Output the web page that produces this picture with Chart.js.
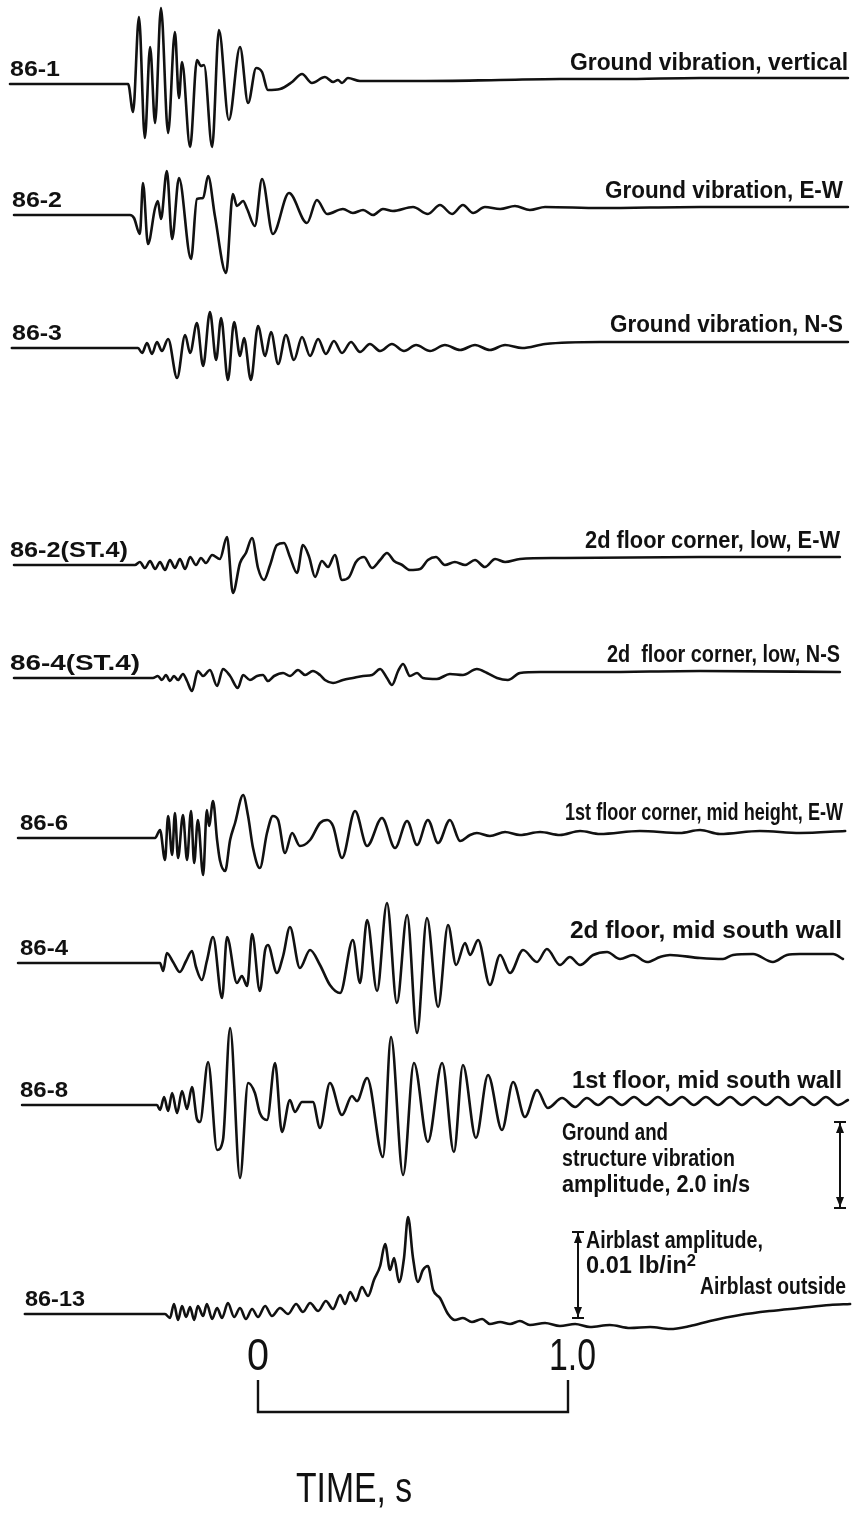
<!DOCTYPE html>
<html><head><meta charset="utf-8">
<script src="https://cdn.jsdelivr.net/npm/chart.js@4.4.0/dist/chart.umd.min.js"></script>
<style>
html,body{margin:0;padding:0;background:#fff;}
#wrap{position:relative;width:853px;height:1520px;overflow:hidden;background:#fff;}
#c{position:absolute;left:0;top:0;}
.t{position:absolute;white-space:pre;line-height:1;font-family:"Liberation Sans",Arial,sans-serif;font-weight:bold;color:#111;}
</style></head><body>
<div id="wrap"><canvas id="c" width="853" height="1520"></canvas></div>
<script>
// ===== DATA: [time (s), trace deflection] read from the record =====
const traceIds = ['86-1','86-2','86-3','86-2(ST.4)','86-4(ST.4)','86-6','86-4','86-8','86-13'];
const traceTitles = ['Ground vibration, vertical','Ground vibration, E-W','Ground vibration, N-S',
  '2d floor corner, low, E-W','2d  floor corner, low, N-S','1st floor corner, mid height, E-W',
  '2d floor, mid south wall','1st floor, mid south wall','Airblast outside'];
const timeTicks = [0, 1.0];
const timeTickLabels = ['0', '1.0'];

const ground_vertical_861 = [[-0.800,0],[-0.419,0],[-0.403,-28],[-0.384,67],[-0.365,-54],[-0.348,37],[-0.332,-39],
 [-0.313,76],[-0.290,-49],[-0.268,52],[-0.255,-14],[-0.245,22],[-0.219,-63],[-0.197,24],[-0.184,18],[-0.174,19],
 [-0.148,-63],[-0.126,54],[-0.094,-36],[-0.058,37],[-0.032,-19],[-0.006,16],[0.013,12],[0.032,-6],[0.071,-5],
 [0.110,2],[0.142,10],[0.174,1],[0.216,7],[0.242,2],[0.258,4],[0.271,1],[0.290,6],[0.329,3],[0.523,3],[0.781,4],
 [0.974,5],[1.168,5],[1.426,6],[1.903,6]];
const ground_ew_862 = [[-0.787,0],[-0.413,0],[-0.400,-3],[-0.381,-19],[-0.371,32],[-0.355,-29],[-0.332,7],[-0.323,14],
 [-0.313,-4],[-0.294,44],[-0.277,-24],[-0.255,37],[-0.216,-44],[-0.197,16],[-0.177,17],[-0.161,39],[-0.139,-1],
 [-0.103,-58],[-0.081,21],[-0.068,9],[-0.048,14],[-0.035,6],[-0.010,-11],[0.013,36],[0.048,-19],[0.100,22],
 [0.158,-8],[0.190,15],[0.223,1],[0.274,6],[0.306,2],[0.339,5],[0.371,0],[0.403,6],[0.435,4],[0.500,8],[0.548,1],
 [0.587,10],[0.626,1],[0.661,10],[0.694,2],[0.732,8],[0.781,6],[0.829,9],[0.877,5],[0.926,8],[1.103,7],[1.426,8],[1.903,8]];
const ground_ns_863 = [[-0.794,0],[-0.387,0],[-0.374,-5],[-0.358,5],[-0.342,-6],[-0.326,6],[-0.310,-3],[-0.290,9],
 [-0.261,-30],[-0.235,13],[-0.219,-5],[-0.197,25],[-0.177,-18],[-0.155,36],[-0.135,-12],[-0.119,30],[-0.097,-32],
 [-0.077,26],[-0.058,-8],[-0.045,10],[-0.023,-32],[0.000,22],[0.023,-8],[0.042,16],[0.065,-16],[0.090,13],
 [0.116,-12],[0.142,11],[0.168,-8],[0.194,9],[0.219,-6],[0.245,7],[0.271,-5],[0.300,6],[0.329,-4],[0.361,4],
 [0.394,-3],[0.432,4],[0.471,-3],[0.510,3],[0.555,-3],[0.603,3],[0.652,-2],[0.700,3],[0.748,-2],[0.797,3],
 [0.852,0],[0.926,4],[1.103,6],[1.903,6]];
const floor2_corner_ew_862st4 = [[-0.787,0],[-0.397,0],[-0.381,3],[-0.365,-3],[-0.348,4],[-0.332,-4],[-0.316,3],
 [-0.300,-5],[-0.284,5],[-0.268,-3],[-0.252,6],[-0.235,-4],[-0.219,8],[-0.200,0],[-0.184,7],[-0.168,2],[-0.148,10],
 [-0.123,6],[-0.100,28],[-0.081,-28],[-0.058,2],[-0.039,12],[-0.019,27],[0.000,-3],[0.019,-15],[0.039,0],[0.061,20],
 [0.084,22],[0.103,8],[0.126,-8],[0.145,20],[0.165,8],[0.184,-12],[0.206,4],[0.226,-2],[0.248,10],[0.271,-15],
 [0.294,-12],[0.316,3],[0.342,8],[0.368,-3],[0.394,5],[0.416,12],[0.439,4],[0.465,0],[0.490,-5],[0.523,-4],
 [0.548,5],[0.574,8],[0.603,0],[0.635,3],[0.668,0],[0.700,5],[0.732,-2],[0.765,6],[0.797,3],[0.845,6],[0.974,7],
 [1.426,8],[1.877,8]];
const floor2_corner_ns_864st4 = [[-0.787,0],[-0.339,0],[-0.323,2],[-0.310,-2],[-0.297,3],[-0.284,-3],[-0.271,2],
 [-0.258,-2],[-0.242,4],[-0.229,-3],[-0.213,-13],[-0.194,7],[-0.177,2],[-0.155,8],[-0.132,-8],[-0.113,9],[-0.090,2],
 [-0.065,-10],[-0.048,3],[-0.026,-2],[-0.003,2],[0.016,3],[0.032,-3],[0.052,2],[0.081,5],[0.103,2],[0.129,8],
 [0.152,3],[0.177,7],[0.200,3],[0.216,-2],[0.242,-5],[0.274,-2],[0.306,0],[0.339,2],[0.368,3],[0.394,9],[0.416,0],
 [0.432,-7],[0.452,7],[0.468,14],[0.490,2],[0.513,5],[0.532,0],[0.577,-1],[0.619,4],[0.661,3],[0.706,9],[0.739,5],
 [0.771,0],[0.806,-2],[0.845,5],[0.910,6],[1.103,6],[1.426,7],[1.877,6]];
const floor1_corner_mid_ew_866 = [[-0.774,0],[-0.332,0],[-0.316,8],[-0.300,-22],[-0.290,22],[-0.277,-17],[-0.268,25],
 [-0.258,-20],[-0.242,23],[-0.229,-22],[-0.216,27],[-0.206,-25],[-0.194,18],[-0.177,-37],[-0.165,28],[-0.158,12],
 [-0.145,37],[-0.132,-2],[-0.123,-22],[-0.106,-33],[-0.090,-2],[-0.074,15],[-0.048,43],[-0.032,22],[-0.016,-10],
 [0.006,-30],[0.029,5],[0.048,22],[0.065,18],[0.087,-15],[0.110,5],[0.135,-8],[0.168,-2],[0.200,15],[0.223,18],
 [0.242,12],[0.271,-20],[0.313,27],[0.352,-8],[0.400,20],[0.442,-10],[0.481,17],[0.513,-7],[0.548,18],[0.581,-5],
 [0.619,18],[0.652,-3],[0.684,3],[0.706,5],[0.748,2],[0.797,6],[0.845,3],[0.910,6],[0.974,3],[1.039,7],[1.103,4],
 [1.232,7],[1.361,5],[1.426,8],[1.490,4],[1.619,7],[1.748,5],[1.894,7]];
const floor2_mid_south_864 = [[-0.774,0],[-0.316,0],[-0.306,-8],[-0.294,10],[-0.274,1],[-0.252,-9],[-0.232,2],
 [-0.213,12],[-0.200,-4],[-0.181,-17],[-0.165,2],[-0.145,26],[-0.116,-35],[-0.100,26],[-0.068,-20],[-0.052,-13],
 [-0.035,-23],[-0.019,29],[0.006,-28],[0.023,13],[0.032,18],[0.061,-10],[0.081,7],[0.103,36],[0.135,-5],[0.168,13],
 [0.200,-2],[0.232,-22],[0.265,-30],[0.306,23],[0.329,-20],[0.352,43],[0.384,-28],[0.416,60],[0.448,-40],[0.481,48],
 [0.513,-70],[0.545,45],[0.581,-44],[0.613,38],[0.639,-2],[0.668,20],[0.684,8],[0.710,23],[0.748,-22],[0.781,8],
 [0.813,-10],[0.855,13],[0.900,1],[0.932,14],[0.974,-2],[1.006,6],[1.039,-2],[1.081,8],[1.126,11],[1.168,4],
 [1.210,8],[1.255,1],[1.297,6],[1.329,8],[1.426,5],[1.500,4],[1.532,8],[1.597,9],[1.661,1],[1.706,8],[1.748,9],
 [1.855,9],[1.887,4]];
const floor1_mid_south_868 = [[-0.761,0],[-0.326,0],[-0.316,-5],[-0.303,8],[-0.290,-6],[-0.277,12],[-0.261,-8],
 [-0.245,14],[-0.229,-4],[-0.213,18],[-0.197,-14],[-0.187,-17],[-0.161,43],[-0.132,-45],[-0.113,-35],[-0.090,77],
 [-0.058,-73],[-0.032,22],[-0.010,12],[0.006,-8],[0.029,-15],[0.055,42],[0.077,-27],[0.103,5],[0.119,-7],[0.142,3],
 [0.177,3],[0.200,-23],[0.232,22],[0.271,-10],[0.303,9],[0.319,4],[0.352,27],[0.403,-52],[0.429,68],[0.468,-70],
 [0.503,42],[0.548,-37],[0.594,42],[0.632,-47],[0.661,40],[0.703,-33],[0.742,30],[0.787,-25],[0.823,23],[0.861,-12],
 [0.900,15],[0.935,-3],[0.981,7],[1.023,-2],[1.061,7],[1.097,0],[1.135,8],[1.174,0],[1.213,8],[1.252,0],[1.290,8],
 [1.329,0],[1.368,8],[1.406,0],[1.445,8],[1.484,0],[1.523,8],[1.561,0],[1.600,8],[1.639,0],[1.677,8],[1.716,0],
 [1.755,8],[1.794,0],[1.832,8],[1.871,0],[1.903,5]];
const airblast_outside_8613 = [[-0.752,0],[-0.300,0],[-0.284,-4],[-0.271,10],[-0.258,-6],[-0.245,8],[-0.232,-3],
 [-0.219,7],[-0.206,-6],[-0.194,8],[-0.177,-2],[-0.165,10],[-0.148,-5],[-0.132,6],[-0.116,-4],[-0.097,11],
 [-0.077,-3],[-0.058,6],[-0.039,-5],[-0.019,5],[0.000,-3],[0.023,8],[0.045,-2],[0.071,6],[0.097,0],[0.123,10],
 [0.145,2],[0.168,11],[0.194,3],[0.219,13],[0.242,5],[0.265,19],[0.281,10],[0.297,22],[0.316,13],[0.335,27],
 [0.355,18],[0.374,34],[0.394,48],[0.410,70],[0.426,44],[0.439,56],[0.455,32],[0.471,56],[0.484,97],[0.500,56],
 [0.516,32],[0.532,44],[0.548,48],[0.565,24],[0.587,16],[0.613,0],[0.635,-6],[0.661,-4],[0.690,-8],[0.723,-5],
 [0.748,-10],[0.781,-8],[0.813,-10],[0.845,-7],[0.877,-11],[0.926,-9],[0.974,-12],[1.023,-10],[1.071,-13],
 [1.135,-11],[1.200,-14],[1.265,-13],[1.329,-15],[1.394,-12],[1.458,-7],[1.555,-1],[1.652,3],[1.748,6],[1.845,9],
 [1.910,10]];

const traceData = [ground_vertical_861, ground_ew_862, ground_ns_863, floor2_corner_ew_862st4, floor2_corner_ns_864st4,
  floor1_corner_mid_ew_866, floor2_mid_south_864, floor1_mid_south_868, airblast_outside_8613];

// ===== LAYOUT (pixels) =====
const W = 853, H = 1520;
const baseY = [84, 215, 348, 565, 678, 838, 963, 1105, 1314];
const idPos = [[10,22],[12,22],[12,22],[10,22],[10,22],[20,22],[20,22],[20,22],[25,22]];
const idW = [50,50,50,118,130,48,48,48,60];
const titlePos = [[570,848,70],[605,843,198],[610,843,332],[585,840,548],[607,840,662],[565,843,820],[570,842,938],[572,842,1088],[700,846,1294]];

const wrap = document.getElementById('wrap');
function addText(html, o){
  const d = document.createElement('div'); d.className = 't'; d.innerHTML = html;
  d.style.fontSize = o.size + 'px';
  if (o.weight) d.style.fontWeight = o.weight;
  wrap.appendChild(d);
  const w = d.getBoundingClientRect().width;
  const s = o.width ? o.width / w : 1;
  let left;
  if (o.left !== undefined) left = o.left;
  else if (o.right !== undefined) left = o.right - w * s;
  else left = o.center - w * s / 2;
  d.style.left = left + 'px';
  d.style.top = (o.base - 0.8465 * o.size) + 'px';
  d.style.transformOrigin = '0 0';
  d.style.transform = 'scaleX(' + s + ')';
}

const scales = {
  x: {type:'linear', display:false, bounds:'data', min: -258/310, max: (W-258)/310}
};
const datasets = traceData.map((arr, i) => {
  scales['y'+i] = {type:'linear', display:false, bounds:'data', min: baseY[i] - H, max: baseY[i]};
  return {
    label: traceIds[i], yAxisID: 'y'+i,
    data: arr.map(p => ({x:p[0], y:p[1]})),
    borderColor:'#111', borderWidth:2.6, pointRadius:0, fill:false,
    cubicInterpolationMode:'monotone', borderJoinStyle:'round', borderCapStyle:'round'
  };
});

function calBar(ctx, x, y1, y2){
  ctx.beginPath(); ctx.moveTo(x, y1); ctx.lineTo(x, y2); ctx.stroke();
  ctx.beginPath(); ctx.moveTo(x-6, y1); ctx.lineTo(x+6, y1); ctx.moveTo(x-6, y2); ctx.lineTo(x+6, y2); ctx.stroke();
  ctx.beginPath(); ctx.moveTo(x, y1+1); ctx.lineTo(x-4, y1+11); ctx.lineTo(x+4, y1+11); ctx.closePath(); ctx.fill();
  ctx.beginPath(); ctx.moveTo(x, y2-1); ctx.lineTo(x-4, y2-11); ctx.lineTo(x+4, y2-11); ctx.closePath(); ctx.fill();
}

const annot = {
  id:'annot',
  afterDatasetsDraw(chart){
    const ctx = chart.ctx, xs = chart.scales.x;
    ctx.save();
    ctx.strokeStyle = '#111'; ctx.fillStyle = '#111'; ctx.lineWidth = 2.4; ctx.lineCap = 'butt';
    const x0 = xs.getPixelForValue(timeTicks[0]), x1 = xs.getPixelForValue(timeTicks[1]);
    ctx.beginPath();
    ctx.moveTo(x0, 1380); ctx.lineTo(x0, 1412); ctx.lineTo(x1, 1412); ctx.lineTo(x1, 1380);
    ctx.stroke();
    ctx.lineWidth = 2;
    calBar(ctx, 840, 1122, 1208);
    calBar(ctx, 578, 1232, 1318);
    ctx.restore();
  }
};

const chart = new Chart(document.getElementById('c'), {
  type:'line',
  data:{datasets},
  options:{
    responsive:false, animation:false, events:[], devicePixelRatio:1,
    layout:{padding:0},
    plugins:{legend:{display:false}, tooltip:{enabled:false}, title:{display:false}},
    scales
  },
  plugins:[annot]
});

// ===== TEXT =====
traceIds.forEach((t, i) => addText(t, {left: idPos[i][0], base: baseY[i] - 7, size: idPos[i][1], width: idW[i]}));
traceTitles.forEach((t, i) => addText(t, {left: titlePos[i][0], base: titlePos[i][2], size: 24, width: titlePos[i][1] - titlePos[i][0]}));
addText('Ground and', {left:562, base:1140, size:23, width:106});
addText('structure vibration', {left:562, base:1166, size:23, width:173});
addText('amplitude, 2.0 in/s', {left:562, base:1192, size:23, width:188});
addText('Airblast amplitude,', {left:586, base:1248, size:23, width:177});
addText('0.01 lb/in<sup style="font-size:0.7em;vertical-align:0.45em;line-height:0">2</sup>', {left:586, base:1273, size:23, width:110});
const xs = chart.scales.x;
timeTicks.forEach((v, i) => addText(timeTickLabels[i], {center: xs.getPixelForValue(v) + (i ? 4 : 0), base: 1370, size: 44, weight: 'normal', width: i ? 47 : 22}));
addText('TIME, s', {left:296, base:1503, size:42, weight:'normal', width:116});
</script></body></html>
